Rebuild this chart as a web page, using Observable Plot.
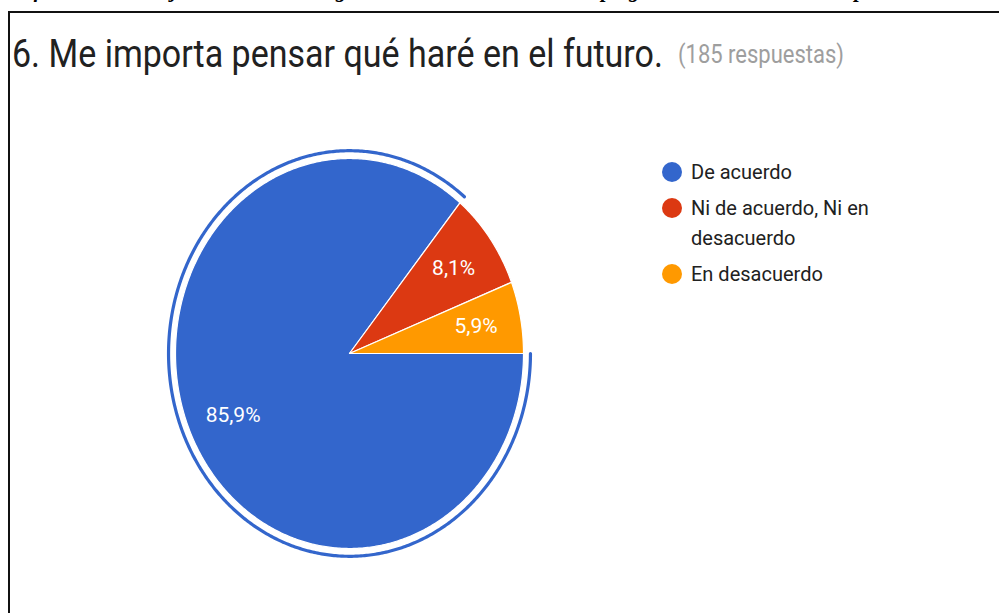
<!DOCTYPE html>
<html><head><meta charset="utf-8">
<script src="https://cdn.jsdelivr.net/npm/d3@7"></script>
<script src="https://cdn.jsdelivr.net/npm/@observablehq/plot@0.6"></script>
<style>
body{margin:0;background:#fff;}
#wrap{position:relative;width:999px;height:613px;overflow:hidden;background:#fff;font-family:Roboto,sans-serif;}
#plot{position:absolute;left:0;top:0;z-index:1;}
#caption{position:absolute;left:0;top:-20px;width:1200px;font:italic bold 21px "Liberation Serif",serif;line-height:1;white-space:nowrap;color:#000;z-index:3;}
#frame{position:absolute;left:8px;top:11px;width:1100px;height:700px;border-top:2px solid #111;border-left:2px solid #111;z-index:3;}
.t{position:absolute;left:12px;top:34px;font-size:34px;line-height:1;white-space:nowrap;color:#212121;transform:scaleY(1.15);transform-origin:0 0;z-index:3;}
.r{position:absolute;left:678px;top:42px;font-size:22px;line-height:1;white-space:nowrap;color:#9e9e9e;transform:scaleY(1.15);transform-origin:0 0;z-index:3;}
#legend{position:absolute;left:662px;top:157px;width:240px;z-index:3;}
.item{display:flex;align-items:flex-start;margin-bottom:6px;}
.sw{width:20px;height:20px;border-radius:50%;margin-top:5px;flex:none;}
.lt{margin-left:9px;font-size:20px;line-height:30px;color:#212121;width:190px;}
</style></head><body><div id="wrap">
<div id="caption"></div>
<div id="frame"></div>
<div id="title" class="t"></div>
<div id="resp" class="r"></div>
<div id="legend"></div>
<div id="plot"></div>
</div>
<script>
const categories = ["De acuerdo", "Ni de acuerdo, Ni en desacuerdo", "En desacuerdo"];
const counts = [159, 15, 11];
const percentLabels = ["85,9%", "8,1%", "5,9%"];
const colors = ["#3366cc", "#dc3912", "#ff9900"];
const titleText = "6. Me importa pensar qué haré en el futuro.";
const responsesText = "(185 respuestas)";
const captionText = "Gráfico 6. Porcentaje de estudiantes según el nivel de acuerdo con la pregunta 6 del cuestionario aplicado";
const highlighted = "De acuerdo";

document.getElementById("caption").textContent = captionText;
document.getElementById("title").textContent = titleText;
document.getElementById("resp").textContent = responsesText;

const legend = document.getElementById("legend");
categories.forEach((c, i) => {
  const it = document.createElement("div"); it.className = "item";
  const sw = document.createElement("div"); sw.className = "sw"; sw.style.background = colors[i];
  const lt = document.createElement("div"); lt.className = "lt"; lt.textContent = c;
  it.append(sw, lt); legend.append(it);
});

const arcs = d3.pie().sort(null).startAngle(Math.PI / 2).endAngle(Math.PI / 2 + 2 * Math.PI)(counts);
const slicePts = [];
const ringPts = [];
const labelPts = [];
arcs.forEach((a, i) => {
  const cat = categories[i];
  slicePts.push({cat, x: 0, y: 0});
  const n = Math.max(2, Math.ceil((a.endAngle - a.startAngle) / 0.01));
  for (let k = 0; k <= n; k++) {
    const t = a.startAngle + (a.endAngle - a.startAngle) * k / n;
    slicePts.push({cat, x: Math.sin(t), y: Math.cos(t)});
    if (cat === highlighted) ringPts.push({x: 1.04 * Math.sin(t), y: 1.04 * Math.cos(t)});
  }
  const m = (a.startAngle + a.endAngle) / 2;
  labelPts.push({x: 0.74 * Math.sin(m), y: 0.74 * Math.cos(m), text: percentLabels[i]});
});

const chart = Plot.plot({
  width: 999, height: 613, margin: 0,
  style: {background: "transparent", fontFamily: "Roboto"},
  x: {domain: [-1, 1], range: [175, 523], axis: null},
  y: {domain: [-1, 1], range: [548, 158], axis: null},
  color: {domain: categories, range: colors},
  marks: [
    Plot.line(slicePts, {x: "x", y: "y", z: "cat", fill: "cat", stroke: "white", strokeWidth: 1.2, curve: "linear-closed"}),
    Plot.line(ringPts, {x: "x", y: "y", stroke: colors[0], strokeWidth: 3.2}),
    Plot.text(labelPts, {x: "x", y: "y", text: "text", fill: "white", fontSize: 21, fontFamily: "Roboto"})
  ]
});
document.getElementById("plot").append(chart);
</script>
</body></html>
